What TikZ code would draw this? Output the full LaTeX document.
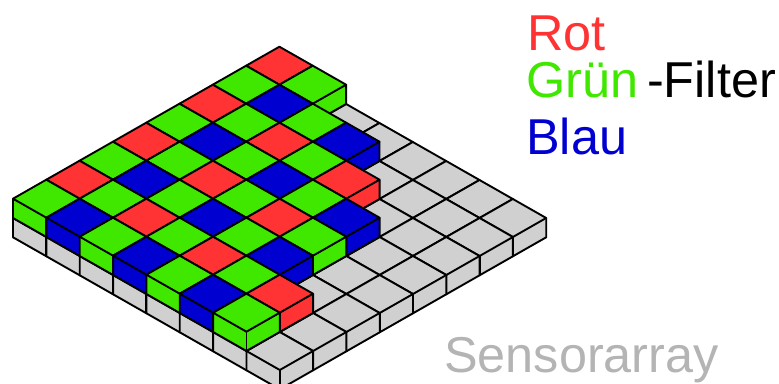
\documentclass[tikz,border=0pt]{standalone}
\usepackage{fontspec}
\setmainfont{Liberation Sans}
\usepackage{xcolor}
\definecolor{rot}{HTML}{FF3333}
\definecolor{gruen}{HTML}{40E800}
\definecolor{blau}{HTML}{0000D0}
\definecolor{sensor}{HTML}{D0D0D0}
\definecolor{schrift}{HTML}{B4B4B4}
\tikzset{
  kante/.style={draw=black, line width=1.9pt, line join=round},
  legende/.style={anchor=base west, inner sep=0pt, font=\fontsize{50.4}{60}\selectfont},
}
% one block: column #1, row #2, from level #3 up to level #3+1
\newcommand{\block}[4]{
  \fill[#4] (#1,#2,#3+1) -- ++(1,0,0) -- ++(0,1,0) -- ++(-1,0,0) -- cycle;
  \fill[#4] (#1,#2,#3+1) -- ++(1,0,0) -- ++(0,0,-1) -- ++(-1,0,0) -- cycle;
  \fill[#4] (#1+1,#2,#3+1) -- ++(0,1,0) -- ++(0,0,-1) -- ++(0,-1,0) -- cycle;
  \draw[kante] (#1,#2,#3+1) -- ++(1,0,0) -- ++(0,1,0) -- ++(-1,0,0) -- cycle;
  \draw[kante] (#1,#2,#3+1) -- ++(0,0,-1) -- ++(1,0,0) -- ++(0,1,0) -- ++(0,0,1);
  \draw[kante] (#1+1,#2,#3+1) -- ++(0,0,-1);
}

\begin{document}
\begin{tikzpicture}[x={(33.35pt,-19pt)}, y={(33.3pt,19pt)}, z={(0pt,19.3pt)}]
  \useasboundingbox (-13pt,-165pt) rectangle (766pt,218pt);
  % sensor layer
  \foreach \j in {7,...,0}
    \foreach \i in {0,...,7}
      \block{\i}{\j}{-1}{sensor};
  % filter layer, \n blocks in each row
  \foreach \j/\n in {7/2,6/4,5/5,4/6,3/6,2/6,1/7,0/7}
    \foreach \i in {1,...,\n} {
      \pgfmathtruncatemacro{\x}{\i-1}
      \pgfmathtruncatemacro{\a}{mod(\j,2)}
      \pgfmathtruncatemacro{\b}{mod(\x,2)}
      \ifnum\a=1
        \ifnum\b=0 \def\farbe{rot}\else\def\farbe{gruen}\fi
      \else
        \ifnum\b=0 \def\farbe{gruen}\else\def\farbe{blau}\fi
      \fi
      \block{\x}{\j}{0}{\farbe};
    }
  \node[legende, text=rot] (r) at (514pt,167.5pt) {Rot};
  \node[legende, text=gruen] (g) at (513pt,120.5pt) {Grün};
  \node[legende, text=black] (f) at (634pt,120.5pt) {-Filter};
  \node[legende, text=blau] (b) at (513pt,63.5pt) {Blau};
  \node[legende, text=schrift] (s) at (431pt,-154pt) {Sensorarray};
\end{tikzpicture}
\end{document}
